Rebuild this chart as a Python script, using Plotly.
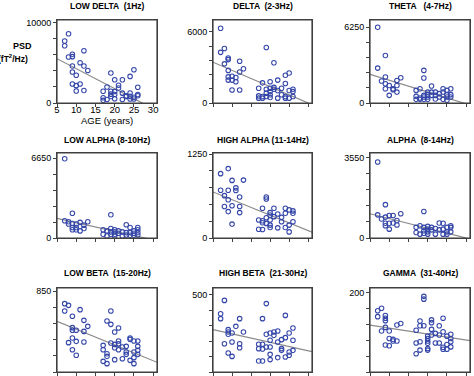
import plotly.graph_objects as go

# ---------------- data ----------------
titles = ["LOW DELTA  (1Hz)", "DELTA  (2-3Hz)", "THETA   (4-7Hz)",
          "LOW ALPHA (8-10Hz)", "HIGH ALPHA (11-14Hz)", "ALPHA  (8-14Hz)",
          "LOW BETA  (15-20Hz)", "HIGH BETA  (21-30Hz)", "GAMMA  (31-40Hz)"]
y_max_label = [10000, 6000, 6250, 6650, 1250, 3550, 850, 500, 200]
y_top = [10300, 7000, 6850, 7070, 1265, 3745, 885, 543, 211]

low_delta_age = [7, 7, 8, 8, 9, 9, 9, 9, 10, 9, 10, 10, 11, 12, 12, 13, 11, 12,
                 17, 17, 17, 18, 18, 19, 19, 19, 19, 20, 20, 20, 20, 21, 21, 22, 22, 22,
                 23, 23, 24, 24, 24, 24, 25, 25, 25, 26, 26, 26]
low_delta_psd = [7700, 7100, 8600, 5700, 6050, 5750, 4600, 3850, 3450, 2350, 2150, 1480,
                 5000, 6480, 4600, 4040, 2350, 1560,
                 1450, 650, 330, 430, 1980, 3720, 1450, 1100, 800, 2880, 1420, 1050, 520,
                 2200, 1870, 2880, 1220, 430, 820, 900, 3300, 1250, 820, 500, 4130, 720,
                 500, 1950, 1050, 900]

delta_age = [7, 7, 8, 8, 9, 9, 9, 9, 9, 10, 10, 11, 11, 10, 12, 12, 13, 12,
             17, 17, 17, 18, 18, 18, 19, 19, 19, 19, 20, 20, 20, 20, 20, 21, 21, 21,
             22, 22, 22, 23, 23, 24, 24, 24, 24, 25, 25, 25, 26, 26, 26]
delta_psd = [6300, 4270, 4600, 3300, 3800, 3660, 2750, 2200, 1930, 2260, 1930, 2150, 1790,
             1100, 3520, 2610, 2890, 1100,
             1240, 600, 410, 1700, 550, 410, 4680, 1160, 830, 550, 1790, 1240, 960, 690,
             470, 3390, 1320, 1160, 1930, 1050, 410, 1240, 690, 2340, 1650, 550, 410,
             2530, 1050, 410, 1160, 960, 550]

theta_age = [7, 7, 8, 9, 9, 9, 9, 10, 10, 11, 11, 12, 12, 12, 13,
             17, 17, 17, 18, 18, 18, 19, 19, 19, 19, 19, 20, 20, 20, 20, 21, 21, 21,
             22, 22, 22, 23, 23, 24, 24, 24, 25, 25, 25, 25, 26, 26, 26]
theta_psd = [6250, 2880, 1810, 3920, 2140, 1590, 1180, 1450, 630, 1180, 1100, 1860, 1450,
             900, 2080,
             1040, 550, 300, 1180, 410, 300, 2690, 2060, 630, 490, 300, 900, 690, 490, 300,
             1400, 900, 630, 900, 630, 330, 770, 490, 1180, 900, 300, 1040, 690, 490, 220,
             1180, 690, 490]

low_alpha_age = [7, 7, 8, 8, 9, 9, 9, 9, 10, 10, 10, 11, 11, 12, 12, 13,
                 17, 17, 18, 18, 19, 19, 19, 19, 20, 20, 20, 20, 21, 21, 22, 22, 23, 23, 23,
                 24, 24, 24, 25, 25, 25, 26, 26, 26, 26]
low_alpha_psd = [6590, 1440, 1350, 1160, 2060, 1210, 870, 680, 1160, 870, 680, 1300, 590,
                 1070, 790, 1350,
                 680, 310, 590, 170, 1940, 790, 510, 310, 680, 510, 310, 170, 590, 390, 510,
                 170, 1100, 450, 250, 870, 450, 230, 590, 390, 230, 870, 680, 450, 250]

high_alpha_age = [7, 7, 8, 9, 9, 9, 8, 9, 10, 10, 10, 11, 11, 12, 12, 12, 13,
                  17, 17, 18, 18, 18, 18, 19, 19, 19, 19, 20, 20, 20, 20, 20, 21, 21, 22, 22,
                  23, 23, 24, 24, 24, 25, 25, 25, 26, 26, 26]
high_alpha_psd = [958, 711, 630, 1033, 711, 570, 469, 393, 857, 479, 207, 746, 706, 610,
                  469, 378, 862,
                  267, 131, 443, 257, 227, 126, 610, 580, 302, 217, 378, 343, 267, 192, 156,
                  443, 318, 358, 151, 307, 242, 443, 368, 156, 418, 192, 91, 403, 368, 242]

alpha_age = [7, 7, 8, 9, 9, 9, 9, 10, 10, 10, 11, 11, 12, 12, 13,
             17, 17, 18, 18, 19, 19, 19, 19, 20, 20, 20, 20, 21, 21, 22, 22, 23, 23,
             24, 24, 24, 25, 25, 25, 26, 26, 26]
alpha_psd = [3350, 1020, 840, 1470, 920, 650, 540, 990, 650, 390, 990, 660, 770, 570, 1070,
             470, 240, 540, 170, 1170, 470, 320, 210, 510, 390, 270, 170, 470, 360, 420, 170,
             660, 360, 650, 390, 170, 470, 270, 170, 540, 470, 270]

low_beta_age = [7, 7, 8, 9, 9, 9, 10, 9, 10, 9, 10, 8, 11, 12, 12, 12, 13,
                17, 17, 17, 18, 18, 18, 18, 19, 19, 19, 20, 20, 20, 20, 21, 21, 21, 21,
                22, 22, 23, 23, 23, 24, 24, 24, 25, 25, 25, 25, 26, 26, 26, 26]
low_beta_psd = [720, 643, 702, 587, 467, 440, 440, 358, 323, 235, 176, 309, 657, 544, 428,
                316, 481,
                281, 235, 112, 537, 193, 165, 88, 643, 502, 305, 421, 291, 256, 130, 464, 326,
                298, 235, 263, 140, 270, 211, 186, 358, 344, 123, 326, 211, 151, 88, 326, 270,
                228, 186]

high_beta_age = [7, 7, 8, 8, 9, 9, 9, 9, 10, 10, 10, 11, 12, 12, 12, 13,
                 17, 17, 17, 18, 18, 18, 18, 19, 19, 19, 20, 20, 20, 20, 20, 21, 21,
                 22, 22, 22, 23, 23, 23, 24, 24, 24, 25, 25, 25, 26, 26, 26]
high_beta_psd = [377, 345, 463, 183, 274, 259, 244, 123, 252, 194, 101, 295, 345, 183, 157,
                 259,
                 179, 151, 71, 345, 179, 149, 71, 442, 244, 162, 252, 205, 162, 114, 80, 259,
                 237, 265, 194, 93, 209, 151, 140, 366, 222, 97, 252, 129, 108, 284, 205, 140]

gamma_age = [7, 7, 8, 8, 9, 9, 9, 9, 9, 10, 10, 10, 11, 11, 12, 12, 13,
             17, 17, 17, 18, 18, 18, 18, 19, 19, 19, 20, 20, 20, 20, 20, 20, 21, 21, 21, 21,
             22, 22, 23, 23, 23, 24, 24, 24, 24, 25, 25, 25, 26, 26, 26, 26]
gamma_psd = [154, 139, 160, 103, 142, 135, 129, 112, 68, 103, 84, 66, 82, 78, 118, 78, 122,
             105, 73, 46, 128, 116, 76, 55, 190, 183, 116, 90, 84, 78, 72, 59, 55, 131, 124,
             107, 93, 97, 73, 116, 93, 73, 135, 101, 62, 57, 90, 69, 57, 95, 84, 76, 63]

# regression lines: intercept (age 0) and slope
fit_intercept = [6740, 4128, 2842, 1988, 800, 1284, 617, 301.5, 125.5]
fit_slope = [-248, -137.6, -97, -71.5, -23, -42.8, -16.6, -5.5, -1.5]

age_ticks = [5, 10, 15, 20, 25, 30]
age_range = [5, 31]

ages = [low_delta_age, delta_age, theta_age, low_alpha_age, high_alpha_age, alpha_age,
        low_beta_age, high_beta_age, gamma_age]
psds = [low_delta_psd, delta_psd, theta_psd, low_alpha_psd, high_alpha_psd, alpha_psd,
        low_beta_psd, high_beta_psd, gamma_psd]

# ---------------- layout geometry (pixels) ----------------
W, H = 474, 376
col_px = [(57, 157), (213, 312), (370, 470)]
row_px = [(20, 103), (153, 238), (288, 372)]
title_y_px = [6, 140, 273]

FONT = "Liberation Sans, Arial, sans-serif"
MARK = "#3446a8"
FRAME = "#404040"

fig = go.Figure()
layout = dict(width=W, height=H, margin=dict(l=0, r=0, t=0, b=0, autoexpand=False),
              paper_bgcolor="white", plot_bgcolor="white", showlegend=False,
              font=dict(family=FONT, size=9, color="black"))
annotations = []
shapes = []

for i in range(9):
    r, c = divmod(i, 3)
    n = "" if i == 0 else str(i + 1)
    xa, ya = "x" + n, "y" + n
    x0, x1 = col_px[c]
    t0, b0 = row_px[r]
    ymax = y_max_label[i]
    layout["xaxis" + n] = dict(
        domain=[x0 / W, x1 / W], range=age_range, anchor=ya,
        showline=True, linecolor=FRAME, linewidth=1, mirror=True,
        ticks="outside", ticklen=3, tickwidth=1, tickcolor=FRAME,
        tickvals=age_ticks, showticklabels=(i == 0), showgrid=False, zeroline=False,
        automargin=False, ticklabelstandoff=-5,
        tickfont=dict(size=9.5, family=FONT, color="black"))
    layout["yaxis" + n] = dict(
        domain=[1 - b0 / H, 1 - t0 / H], range=[0, y_top[i]], anchor=xa,
        showline=True, linecolor=FRAME, linewidth=1, mirror=True,
        ticks="outside", ticklen=3, tickwidth=1, tickcolor=FRAME,
        tickvals=[ymax * k / 5 for k in range(6)],
        ticktext=["0", "", "", "", "", str(ymax)],
        showgrid=False, zeroline=False, automargin=False,
        tickfont=dict(size=9, family=FONT, color="black"))
    # frame around each panel
    shapes.append(dict(type="rect", xref=xa + " domain", yref=ya + " domain",
                       x0=0, x1=1, y0=0, y1=1, line=dict(color=FRAME, width=1.2),
                       fillcolor="rgba(0,0,0,0)", layer="above"))
    fx = age_range
    fy = [fit_intercept[i] + fit_slope[i] * a for a in fx]
    fig.add_trace(go.Scatter(x=fx, y=fy, mode="lines", xaxis=xa, yaxis=ya,
                             line=dict(color="#8a8a8a", width=1.2), hoverinfo="skip"))
    fig.add_trace(go.Scatter(x=ages[i], y=psds[i], mode="markers", xaxis=xa, yaxis=ya,
                             marker=dict(symbol="circle-open", size=4.5, color=MARK,
                                         line=dict(width=1.1, color=MARK))))
    annotations.append(dict(text="<b>" + titles[i] + "</b>", xref="paper", yref="paper",
                            x=(x0 + x1) / 2 / W, y=1 - title_y_px[r] / H,
                            xanchor="center", yanchor="middle", showarrow=False,
                            font=dict(size=8.5, family=FONT, color="black")))

annotations.append(dict(text="<b>PSD</b>", xref="paper", yref="paper", x=22 / W, y=1 - 46 / H,
                        xanchor="center", yanchor="middle", showarrow=False,
                        font=dict(size=9, family=FONT)))
annotations.append(dict(text="<b>(fT<sup>2</sup>/Hz)</b>", xref="paper", yref="paper",
                        x=30 / W, y=1 - 58 / H, xanchor="right", yanchor="middle",
                        showarrow=False, font=dict(size=8.5, family=FONT)))
annotations.append(dict(text="AGE (years)", xref="paper", yref="paper", x=107 / W,
                        y=1 - 121 / H, xanchor="center", yanchor="middle", showarrow=False,
                        font=dict(size=9.5, family=FONT)))
layout["annotations"] = annotations
layout["shapes"] = shapes
fig.update_layout(**layout)
fig.write_html("out.html", config={"displayModeBar": False},
               post_script="document.body.style.margin='0';document.body.style.padding='0';")
